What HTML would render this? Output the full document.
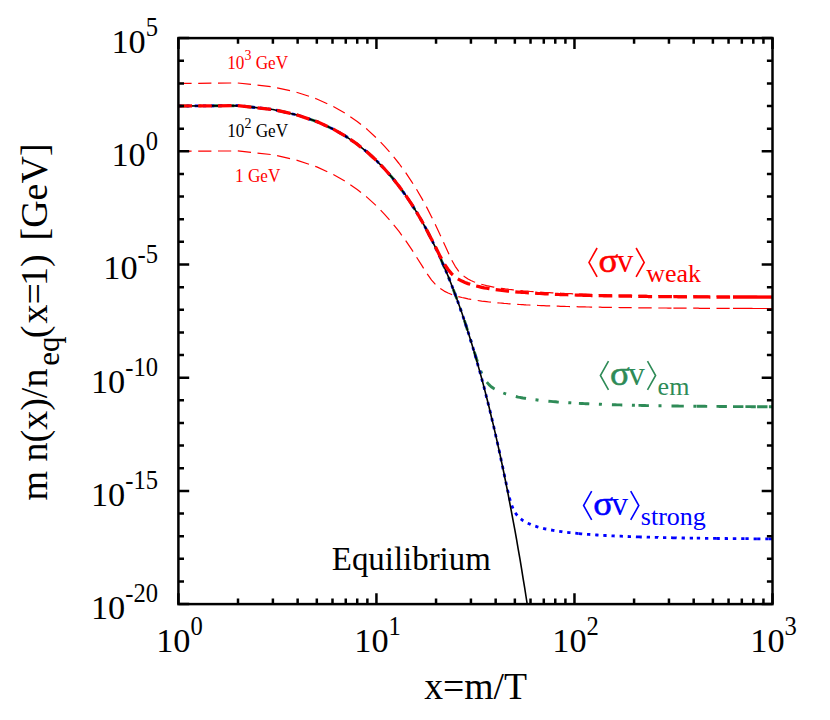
<!DOCTYPE html>
<html><head><meta charset="utf-8"><title>Freeze-out</title>
<style>html,body{margin:0;padding:0;background:#fff}svg{display:block}text{font-family:"Liberation Serif",serif}</style></head>
<body>
<svg width="830" height="720" viewBox="0 0 830 720">
<rect width="830" height="720" fill="#fff"/>
<defs><clipPath id="cp"><rect x="178.4" y="38.1" width="594.1" height="566.0"/></clipPath></defs>
<g clip-path="url(#cp)" fill="none" stroke-linecap="butt" stroke-linejoin="round">
<path d="M178.4 106.0L188.8 106.0M198.4 105.9L201.4 105.9M211.4 105.8L221.8 105.7M231.4 105.7L234.4 105.7M244.4 106.3L254.7 107.5M264.2 108.5L267.2 108.9M277.1 110.4L287.2 112.7M296.6 114.8L299.5 115.7M308.9 118.9L316.8 121.6L318.7 122.5M327.4 126.4L330.2 127.7M339.0 132.4L345.8 136.3L347.9 137.8M355.8 143.2L357.2 144.2L358.2 145.0M366.0 151.2L367.4 152.3L373.8 158.1M380.6 164.9L382.7 167.0M389.4 174.4L392.1 177.5L396.0 182.5M401.8 190.1L403.6 192.5M409.3 200.7L411.3 203.7L414.9 209.5M419.8 217.7L421.3 220.3M426.2 229.1L427.0 230.5L431.0 238.3M435.2 246.9L436.0 248.7L436.5 249.6M440.7 258.7L444.2 266.9L444.8 268.3M448.5 277.1L449.6 279.9M453.2 289.2L455.2 294.5L456.9 299.0M460.1 308.0L461.1 310.8M464.3 320.3L465.0 322.3L467.5 330.2M470.4 339.3L470.9 340.8L471.3 342.2M474.3 351.8L476.5 358.7L477.5 361.7M480.7 370.7L481.7 373.2L481.8 373.5M486.8 382.1L489.0 384.6L491.2 386.7L493.5 388.3L494.6 388.9M503.3 393.0L505.8 393.9L506.1 394.0M515.8 396.5L518.2 397.1L519.9 397.4L521.5 397.7L523.0 398.0L524.6 398.2L526.0 398.5M535.5 399.8L537.4 400.0L538.5 400.2M548.4 401.2L550.9 401.4L553.1 401.6L555.3 401.8L557.4 402.0L558.8 402.1M568.3 402.7L570.1 402.8L571.3 402.9M578.9 403.4L581.1 403.5L582.7 403.5L584.2 403.6L585.7 403.7L588.0 403.8L589.3 403.9M598.9 404.2L600.9 404.3L601.9 404.4M611.9 404.7L613.8 404.8L615.4 404.8L617.0 404.9L618.6 404.9L620.1 404.9L621.6 405.0L622.3 405.0M631.9 405.2L633.6 405.3L634.9 405.3M638.5 405.4L640.3 405.4L641.9 405.5L643.4 405.5L645.0 405.5L646.5 405.6L648.3 405.6L648.9 405.6M658.5 405.8L660.2 405.8L661.5 405.8M671.5 406.0L673.1 406.0L674.8 406.0L676.4 406.0L677.9 406.0L679.5 406.1L681.0 406.1L682.7 406.1L683.8 406.1M693.4 406.2L695.0 406.2L696.4 406.3M696.8 406.3L698.5 406.3L700.1 406.3L701.7 406.3L703.2 406.3L704.8 406.3L706.5 406.4L707.2 406.4M716.5 406.4L718.1 406.4L719.7 406.5L721.2 406.5L722.8 406.5L724.3 406.5L725.9 406.5L726.9 406.5M733.0 406.6L734.5 406.6L736.1 406.6L737.7 406.6L739.2 406.6L740.7 406.6L742.3 406.6L743.4 406.6M745.4 406.6L747.0 406.6L748.6 406.6L750.1 406.6L751.7 406.7L753.2 406.7L754.8 406.7L755.8 406.7M757.1 406.7L758.6 406.7L760.1 406.7L761.7 406.7L763.2 406.7L764.8 406.7L766.4 406.7L767.5 406.7M768.9 406.7L770.4 406.7L772.0 406.7L772.5 406.7" stroke="#2e8b57" stroke-width="2.90"/>
<path d="M178.4 106.0L181.7 106.0M186.6 106.0L189.9 105.9M194.7 105.9L198.0 105.9M202.9 105.9L206.2 105.8M211.0 105.8L214.3 105.8M219.2 105.8L222.5 105.7M227.3 105.7L230.6 105.7M235.5 105.6L238.0 105.6L238.8 105.7M243.6 106.2L246.9 106.6M251.7 107.1L255.0 107.5M259.8 108.0L263.1 108.4M267.9 108.9L271.2 109.3M276.0 110.2L279.2 110.9M283.9 112.0L287.2 112.7M291.9 113.8L295.1 114.5M299.8 115.8L302.9 116.9M307.5 118.4L310.6 119.5M315.2 121.1L316.8 121.6L318.3 122.3M322.7 124.3L325.7 125.7M330.1 127.7L332.5 128.8L333.1 129.1M337.3 131.5L340.2 133.1M344.4 135.6L345.8 136.3L347.2 137.3M351.2 140.1L353.9 141.9M357.9 144.7L360.5 146.8M364.3 149.8L366.9 151.9M370.5 155.1L372.9 157.3M376.5 160.6L378.8 163.0M382.2 166.5L384.5 168.8M387.7 172.5L389.9 175.0M393.0 178.7L395.1 181.2M398.1 185.0L400.1 187.7M402.9 191.6L404.9 194.3M407.6 198.3L409.5 201.0M412.1 205.1L413.9 207.9M416.5 212.0L418.1 214.8M420.6 219.0L422.1 221.6L422.2 221.9M424.6 226.1L426.2 229.0M428.4 233.3L429.9 236.3M432.1 240.6L433.6 243.6M435.7 247.9L437.1 250.9M439.1 255.3L440.2 257.8L440.5 258.3M442.4 262.8L443.8 265.8M445.6 270.3L446.9 273.3M448.8 277.8L450.0 280.9M451.8 285.4L452.9 288.5M454.7 293.0L455.2 294.5L455.8 296.1M457.5 300.7L458.6 303.8L458.6 303.8M460.2 308.4L461.3 311.5M462.9 316.1L463.9 319.2M465.5 323.8L466.5 327.0M468.0 331.6L469.0 334.7M470.4 339.4L470.9 341.0L471.4 342.5M472.8 347.2L473.7 350.3M475.1 355.0L476.0 358.2M477.3 362.8L478.2 366.0M479.6 370.7L480.4 373.9M481.7 378.6L482.5 381.7M483.8 386.4L484.2 387.9L484.6 389.6M485.8 394.3L486.6 397.3L486.7 397.5M487.8 402.2L488.6 405.4M489.8 410.2L490.6 413.4M491.7 418.1L492.5 421.3M493.6 426.0L494.3 429.2M495.4 434.0L496.1 437.2M497.2 441.9L497.8 444.5L497.9 445.2M499.0 449.9L499.7 453.1M500.7 457.9L501.4 461.1M502.4 465.8L503.1 469.1M504.1 473.8L504.8 477.1M505.8 481.8L506.5 485.0M507.5 489.8L508.3 493.0M509.4 497.7L510.3 500.9M511.8 505.5L513.0 508.6M515.3 512.8L516.6 514.7L517.3 515.5M520.8 518.9L523.0 520.6L523.4 520.8M527.7 523.2L529.1 523.8L530.5 524.4L530.7 524.5M535.3 526.1L537.4 526.8L538.4 527.1M543.1 528.3L545.0 528.8L546.3 529.0M551.1 530.0L553.1 530.3L554.4 530.5M559.2 531.3L561.5 531.6L562.4 531.8M567.2 532.4L569.1 532.6L570.5 532.7M575.3 533.2L577.0 533.4L578.6 533.6M578.9 533.6L581.1 533.8L582.2 533.9M587.0 534.3L588.7 534.4L590.3 534.5M595.2 534.9L597.0 535.0L598.5 535.1M603.3 535.4L605.2 535.5L606.6 535.5M611.5 535.8L613.3 535.9L614.7 536.0M619.6 536.2L621.1 536.2L622.9 536.3M627.7 536.5L629.7 536.6L631.0 536.6M635.9 536.8L637.5 536.9L639.1 536.9L640.7 537.0L641.8 537.0M646.7 537.1L648.3 537.2L650.0 537.2M654.8 537.4L656.3 537.4L658.0 537.4L658.1 537.5M663.0 537.6L664.5 537.6L666.3 537.6M671.1 537.7L672.9 537.8L674.5 537.8L676.1 537.8L676.7 537.9M681.6 537.9L683.2 538.0L684.9 538.0M689.7 538.1L691.3 538.1L692.8 538.1L693.0 538.1M696.8 538.2L698.5 538.2L700.1 538.2M705.0 538.3L706.5 538.3L708.1 538.3L708.3 538.3M713.1 538.4L714.8 538.4L716.3 538.4L716.4 538.4M716.5 538.4L718.1 538.5L719.7 538.5L719.8 538.5M724.7 538.5L726.2 538.5L727.8 538.6L728.0 538.6M732.8 538.6L734.4 538.6L736.0 538.6L736.3 538.6M741.2 538.7L742.7 538.7L744.2 538.7L744.5 538.7M745.4 538.7L747.0 538.7L748.6 538.7L748.7 538.7M753.6 538.8L755.1 538.8L756.7 538.8L756.9 538.8M757.1 538.8L758.6 538.8L760.1 538.8L760.4 538.8M765.3 538.9L766.8 538.9L768.4 538.9L768.6 538.9M768.9 538.9L770.4 538.9L772.0 538.9L772.2 538.9" stroke="#0000ff" stroke-width="2.80"/>
<path d="M178.4 106.0L238.0 105.6L272.9 109.5L297.6 115.1L316.8 121.6L332.5 128.8L345.8 136.3L357.2 144.2L367.4 152.3L376.4 160.6L384.6 169.0L392.1 177.5L399.0 186.2L405.4 194.9L411.3 203.7L416.9 212.6L422.1 221.6L427.0 230.5L431.6 239.6L436.0 248.7L440.2 257.8L444.2 266.9L448.1 276.1L451.7 285.3L455.2 294.5L458.6 303.8L461.9 313.1L465.0 322.4L468.0 331.7L470.9 341.0L473.7 350.3L476.5 359.7L479.1 369.1L481.7 378.5L484.2 387.9L486.6 397.3L489.0 406.7L491.2 416.2L493.5 425.6L495.7 435.1L497.8 444.5L499.9 454.0L501.9 463.5L503.9 473.0L505.8 482.5L507.7 492.0L509.5 501.5L511.3 511.0L513.1 520.6L514.9 530.1L516.6 539.7L518.2 549.2L519.9 558.7L521.5 568.3L523.0 577.9L524.6 587.4L526.1 597.0L527.6 606.6L529.1 616.2L530.5 625.7" stroke="#000" stroke-width="1.60"/>
<path d="M178.4 83.4L191.6 83.3M198.2 83.3L211.4 83.2M218.0 83.1L231.2 83.0M237.8 83.0L251.0 84.4M257.5 85.1L270.7 86.6M277.1 87.8L290.0 90.7M296.5 92.2L309.0 96.3M315.2 98.4L316.8 99.0L327.3 103.8M333.3 106.6L344.8 113.1M350.3 116.8L357.2 121.5L361.0 124.5M366.1 128.6L367.4 129.6L375.9 137.5M380.6 142.2L384.6 146.3L389.5 151.9M393.7 156.9L399.0 163.5L401.8 167.4M405.7 172.7L411.3 181.1L413.0 183.8M416.5 189.3L422.1 198.9L423.1 200.8M426.3 206.6L427.0 207.9L431.6 216.9L432.3 218.3M435.2 224.2L436.0 226.0L440.2 235.0L440.8 236.2M443.5 242.2L444.2 243.8L448.1 252.3L449.0 254.3M451.8 260.2L455.2 266.3L458.6 271.1L458.9 271.4M463.6 275.9L465.0 277.1L468.0 279.0L470.9 280.5L473.7 281.7L475.1 282.2M481.4 284.3L484.2 285.0L486.6 285.6L489.0 286.1L491.2 286.6L493.5 287.1L494.3 287.2M500.8 288.3L503.9 288.7L505.8 289.0L507.7 289.2L509.5 289.5L511.3 289.7L513.1 289.9L513.9 290.0M520.4 290.6L523.0 290.9L524.6 291.0L526.1 291.1L527.6 291.2L530.5 291.5L533.4 291.7L533.6 291.7M540.2 292.2L542.6 292.3L545.0 292.5L547.4 292.6L549.7 292.7L552.0 292.8L553.4 292.9M560.0 293.2L561.5 293.3L563.5 293.4L565.4 293.5L567.3 293.5L569.1 293.6L571.0 293.7L572.7 293.8L573.2 293.8M578.9 294.0L581.1 294.1L582.7 294.1L584.2 294.2L585.7 294.2L588.0 294.3L590.1 294.3L592.1 294.4M598.7 294.6L600.3 294.6L602.2 294.6L604.0 294.7L605.8 294.7L607.6 294.8L609.3 294.8L611.0 294.9L611.9 294.9M618.5 295.0L620.1 295.0L621.6 295.1L623.6 295.1L625.5 295.1L627.4 295.2L629.2 295.2L631.0 295.2L631.7 295.2M638.3 295.3L639.9 295.4L641.5 295.4L643.1 295.4L644.6 295.4L646.1 295.4L648.0 295.5L649.8 295.5L651.5 295.5L651.7 295.5M658.3 295.6L659.9 295.6L661.5 295.6L663.0 295.7L664.5 295.7L666.3 295.7L668.1 295.7L669.8 295.7L671.5 295.7L671.5 295.7M673.4 295.8L675.0 295.8L676.6 295.8L678.2 295.8L679.7 295.8L681.2 295.8L682.9 295.8L684.6 295.9L686.3 295.9L686.6 295.9M693.2 295.9L694.8 295.9L696.4 295.9L698.1 296.0L699.7 296.0L701.3 296.0L702.9 296.0L704.4 296.0L705.9 296.0L707.6 296.0L709.2 296.0L710.0 296.0M716.5 296.1L718.1 296.1L719.7 296.1L721.2 296.1L722.8 296.1L724.3 296.1L725.9 296.1L727.6 296.1L729.1 296.1L729.7 296.1M733.0 296.2L734.5 296.2L736.1 296.2L737.7 296.2L739.2 296.2L740.7 296.2L742.3 296.2L743.9 296.2L745.4 296.2L747.0 296.2L748.6 296.2L750.1 296.2L751.7 296.2L753.2 296.2L754.8 296.2L756.4 296.2L757.9 296.3L759.4 296.3L761.0 296.3L762.6 296.3L764.1 296.3L765.6 296.3L767.2 296.3L768.7 296.3L770.2 296.3L771.8 296.3L772.5 296.3" stroke="#ff0000" stroke-width="1.20"/>
<path d="M178.4 151.3L191.6 151.2M198.2 151.2L211.4 151.1M218.0 151.0L231.2 151.0M237.8 150.9L251.0 152.3M257.5 153.1L270.7 154.5M277.1 155.7L290.0 158.6M296.5 160.1L309.0 164.2M315.2 166.4L316.8 166.9L327.3 171.7M333.3 174.5L344.8 181.0M350.3 184.7L357.2 189.5L361.0 192.4M366.1 196.5L367.4 197.6L375.9 205.4M380.6 210.1L384.6 214.3L389.5 219.8M393.7 224.8L399.0 231.4L401.8 235.3M405.7 240.6L411.3 248.9L413.1 251.6M416.6 257.2L422.1 265.9L423.6 268.4M427.2 273.9L431.6 280.1L435.4 284.3M440.3 288.6L444.2 291.1L448.1 293.0L451.7 294.5L452.1 294.6M458.3 296.6L461.9 297.5L465.0 298.2L468.0 298.9L470.9 299.4L471.2 299.5M477.7 300.5L481.7 301.1L484.2 301.4L486.6 301.7L489.0 302.0L490.9 302.2M497.4 302.8L499.9 303.0L501.9 303.2L503.9 303.4L505.8 303.5L507.7 303.7L509.5 303.8L510.6 303.9M517.2 304.3L519.9 304.5L521.5 304.6L523.0 304.7L524.6 304.8L526.1 304.9L529.1 305.0L530.4 305.1M537.0 305.4L538.7 305.5L541.3 305.6L543.8 305.7L546.2 305.8L548.6 305.9L550.2 305.9M556.7 306.2L558.4 306.2L560.5 306.3L562.5 306.4L564.4 306.4L566.4 306.5L568.2 306.5L570.0 306.6M576.6 306.7L578.7 306.8L580.3 306.8L581.9 306.9L583.4 306.9L585.0 306.9L586.5 307.0L588.7 307.0L590.9 307.1L592.1 307.1M598.7 307.2L600.3 307.2L602.2 307.3L604.0 307.3L605.8 307.3L607.6 307.4L609.3 307.4L611.0 307.4L611.9 307.4M618.5 307.5L620.1 307.6L621.6 307.6L623.6 307.6L625.5 307.6L627.4 307.7L629.2 307.7L631.0 307.7L631.7 307.7M638.3 307.8L639.9 307.8L641.5 307.8L643.1 307.8L644.6 307.9L646.1 307.9L648.0 307.9L649.8 307.9L651.5 307.9L651.7 307.9M658.3 308.0L659.9 308.0L661.5 308.0L663.0 308.0L664.5 308.0L666.3 308.0L668.1 308.1L669.8 308.1L671.5 308.1L671.5 308.1M673.4 308.1L675.0 308.1L676.6 308.1L678.2 308.1L679.7 308.1L681.2 308.1L682.9 308.2L684.6 308.2L686.3 308.2L686.6 308.2M693.2 308.2L694.8 308.2L696.4 308.2L698.1 308.2L699.7 308.3L701.3 308.3L702.9 308.3L704.4 308.3L705.9 308.3L707.6 308.3L709.2 308.3L710.0 308.3M716.5 308.3L718.1 308.3L719.7 308.3L721.2 308.3L722.8 308.4L724.3 308.4L725.9 308.4L727.6 308.4L729.1 308.4L729.7 308.4M733.0 308.4L734.5 308.4L736.1 308.4L737.7 308.4L739.2 308.4L740.7 308.4L742.3 308.4L743.9 308.4L745.4 308.4L747.0 308.4L748.6 308.4L750.1 308.4L751.7 308.4L753.2 308.5L754.8 308.5L756.4 308.5L757.9 308.5L759.4 308.5L761.0 308.5L762.6 308.5L764.1 308.5L765.6 308.5L767.2 308.5L768.7 308.5L770.2 308.5L771.8 308.5L772.5 308.5" stroke="#ff0000" stroke-width="1.20"/>
<path d="M178.4 106.0L192.0 105.9M198.2 105.9L211.8 105.8M218.0 105.8L231.6 105.7M237.8 105.6L251.3 107.1M257.5 107.8L271.0 109.3M277.1 110.4L290.4 113.4M296.5 114.8L309.3 119.1M315.2 121.1L316.8 121.6L327.6 126.5M333.3 129.2L345.1 135.9M350.3 139.4L357.2 144.2L361.2 147.4M366.1 151.3L367.4 152.3L376.2 160.3M380.6 164.8L384.6 169.0L389.7 174.8M393.7 179.6L399.0 186.2L402.0 190.3M405.7 195.4L411.3 203.7L413.2 206.7M416.5 212.0L422.1 221.5L423.3 223.7M426.3 229.2L431.6 239.4L432.6 241.2M435.4 246.8L440.2 256.4L441.6 258.8M444.6 264.3L448.1 269.5L451.7 273.9L452.9 275.0M457.8 278.8L461.9 281.1L465.0 282.5L468.0 283.6L470.2 284.3M476.2 286.0L479.1 286.7L481.7 287.3L484.2 287.8L486.6 288.2L489.0 288.6L489.5 288.7M495.7 289.6L497.8 289.9L499.9 290.2L501.9 290.4L503.9 290.7L505.8 290.9L507.7 291.1L509.1 291.2M515.3 291.8L518.2 292.1L519.9 292.2L521.5 292.3L523.0 292.4L524.6 292.5L526.1 292.7L528.9 292.8M535.1 293.2L537.4 293.4L540.0 293.5L542.6 293.7L545.0 293.8L547.4 293.9L548.7 294.0M554.9 294.3L557.4 294.4L559.5 294.5L561.5 294.5L563.5 294.6L565.4 294.7L567.3 294.7L568.4 294.8M574.7 295.0L577.0 295.1L578.7 295.1L580.3 295.2L581.9 295.2L583.4 295.3L585.0 295.3L586.5 295.3L588.7 295.4L590.9 295.5L592.5 295.5M598.7 295.6L600.3 295.7L602.2 295.7L604.0 295.8L605.8 295.8L607.6 295.8L609.3 295.9L611.0 295.9L612.3 295.9M618.5 296.0L620.1 296.1L621.6 296.1L623.6 296.1L625.5 296.2L627.4 296.2L629.2 296.2L631.0 296.2L632.1 296.3M638.3 296.3L639.9 296.4L641.5 296.4L643.1 296.4L644.6 296.4L646.1 296.4L648.0 296.5L649.8 296.5L651.5 296.5L652.1 296.5M658.3 296.6L659.9 296.6L661.5 296.6L663.0 296.6L664.5 296.6L666.3 296.6L668.1 296.7L669.8 296.7L671.5 296.7L671.9 296.7M673.4 296.7L675.0 296.7L676.6 296.7L678.2 296.8L679.7 296.8L681.2 296.8L682.9 296.8L684.6 296.8L686.3 296.8L687.0 296.8M693.2 296.9L694.8 296.9L696.4 296.9L698.1 296.9L699.7 296.9L701.3 296.9L702.9 296.9L704.4 296.9L705.9 296.9L707.6 296.9L709.2 297.0L710.4 297.0M716.5 297.0L718.1 297.0L719.7 297.0L721.2 297.0L722.8 297.0L724.3 297.0L725.9 297.0L727.6 297.0L729.1 297.1L730.1 297.1M733.0 297.1L734.5 297.1L736.1 297.1L737.7 297.1L739.2 297.1L740.7 297.1L742.3 297.1L743.9 297.1L745.4 297.1L747.0 297.1L748.6 297.1L750.1 297.1L751.7 297.1L753.2 297.1L754.8 297.1L756.4 297.2L757.9 297.2L759.4 297.2L761.0 297.2L762.6 297.2L764.1 297.2L765.6 297.2L767.2 297.2L768.7 297.2L770.2 297.2L771.8 297.2L772.5 297.2" stroke="#ff0000" stroke-width="3.25"/>
</g>
<g stroke="#000" fill="none" stroke-linecap="butt">
<path d="M178.4 38.10h10.8M772.5 38.10h-10.8M178.4 60.74h5.6M772.5 60.74h-5.6M178.4 83.38h5.6M772.5 83.38h-5.6M178.4 106.02h5.6M772.5 106.02h-5.6M178.4 128.66h5.6M772.5 128.66h-5.6M178.4 151.30h10.8M772.5 151.30h-10.8M178.4 173.94h5.6M772.5 173.94h-5.6M178.4 196.58h5.6M772.5 196.58h-5.6M178.4 219.22h5.6M772.5 219.22h-5.6M178.4 241.86h5.6M772.5 241.86h-5.6M178.4 264.50h10.8M772.5 264.50h-10.8M178.4 287.14h5.6M772.5 287.14h-5.6M178.4 309.78h5.6M772.5 309.78h-5.6M178.4 332.42h5.6M772.5 332.42h-5.6M178.4 355.06h5.6M772.5 355.06h-5.6M178.4 377.70h10.8M772.5 377.70h-10.8M178.4 400.34h5.6M772.5 400.34h-5.6M178.4 422.98h5.6M772.5 422.98h-5.6M178.4 445.62h5.6M772.5 445.62h-5.6M178.4 468.26h5.6M772.5 468.26h-5.6M178.4 490.90h10.8M772.5 490.90h-10.8M178.4 513.54h5.6M772.5 513.54h-5.6M178.4 536.18h5.6M772.5 536.18h-5.6M178.4 558.82h5.6M772.5 558.82h-5.6M178.4 581.46h5.6M772.5 581.46h-5.6M178.4 604.10h10.8M772.5 604.10h-10.8M178.40 604.1v-10.8M178.40 38.1v10.8M238.01 604.1v-5.6M238.01 38.1v5.6M272.89 604.1v-5.6M272.89 38.1v5.6M297.63 604.1v-5.6M297.63 38.1v5.6M316.82 604.1v-5.6M316.82 38.1v5.6M332.50 604.1v-5.6M332.50 38.1v5.6M345.76 604.1v-5.6M345.76 38.1v5.6M357.24 604.1v-5.6M357.24 38.1v5.6M367.37 604.1v-5.6M367.37 38.1v5.6M376.43 604.1v-10.8M376.43 38.1v10.8M436.05 604.1v-5.6M436.05 38.1v5.6M470.92 604.1v-5.6M470.92 38.1v5.6M495.66 604.1v-5.6M495.66 38.1v5.6M514.85 604.1v-5.6M514.85 38.1v5.6M530.53 604.1v-5.6M530.53 38.1v5.6M543.79 604.1v-5.6M543.79 38.1v5.6M555.28 604.1v-5.6M555.28 38.1v5.6M565.41 604.1v-5.6M565.41 38.1v5.6M574.47 604.1v-10.8M574.47 38.1v10.8M634.08 604.1v-5.6M634.08 38.1v5.6M668.95 604.1v-5.6M668.95 38.1v5.6M693.69 604.1v-5.6M693.69 38.1v5.6M712.89 604.1v-5.6M712.89 38.1v5.6M728.57 604.1v-5.6M728.57 38.1v5.6M741.82 604.1v-5.6M741.82 38.1v5.6M753.31 604.1v-5.6M753.31 38.1v5.6M763.44 604.1v-5.6M763.44 38.1v5.6M772.50 604.1v-10.8M772.50 38.1v10.8" stroke-width="2.50"/>
<rect x="178.4" y="38.1" width="594.1" height="566.0" stroke-width="2.50" stroke-linejoin="miter"/>
</g>
<g fill="#000"><text transform="translate(111.42 52.90) scale(1.000 1)" font-size="34.30">10</text><text transform="translate(145.72 36.40) scale(0.900 1)" font-size="27.30">5</text></g>
<g fill="#000"><text transform="translate(111.42 166.10) scale(1.000 1)" font-size="34.30">10</text><text transform="translate(145.72 149.60) scale(0.900 1)" font-size="27.30">0</text></g>
<g fill="#000"><text transform="translate(103.23 279.30) scale(1.000 1)" font-size="34.30">10</text><text transform="translate(137.53 262.80) scale(0.900 1)" font-size="27.30">-5</text></g>
<g fill="#000"><text transform="translate(90.95 392.50) scale(1.000 1)" font-size="34.30">10</text><text transform="translate(125.25 376.00) scale(0.900 1)" font-size="27.30">-10</text></g>
<g fill="#000"><text transform="translate(90.95 505.70) scale(1.000 1)" font-size="34.30">10</text><text transform="translate(125.25 489.20) scale(0.900 1)" font-size="27.30">-15</text></g>
<g fill="#000"><text transform="translate(90.95 618.90) scale(1.000 1)" font-size="34.30">10</text><text transform="translate(125.25 602.40) scale(0.900 1)" font-size="27.30">-20</text></g>
<g fill="#000"><text transform="translate(156.21 651.70) scale(1.000 1)" font-size="34.30">10</text><text transform="translate(190.51 635.20) scale(0.900 1)" font-size="27.30">0</text></g>
<g fill="#000"><text transform="translate(354.24 651.70) scale(1.000 1)" font-size="34.30">10</text><text transform="translate(388.54 635.20) scale(0.900 1)" font-size="27.30">1</text></g>
<g fill="#000"><text transform="translate(552.27 651.70) scale(1.000 1)" font-size="34.30">10</text><text transform="translate(586.57 635.20) scale(0.900 1)" font-size="27.30">2</text></g>
<g fill="#000"><text transform="translate(750.31 651.70) scale(1.000 1)" font-size="34.30">10</text><text transform="translate(784.61 635.20) scale(0.900 1)" font-size="27.30">3</text></g>
<text x="475.6" y="699.4" text-anchor="middle" font-size="37.7">x=m/T</text>
<g transform="translate(47.0 0) rotate(-90)" font-size="37.7"><text x="-500.5" y="0.0" font-size="38.0">m n(x)/n</text><text x="-365.7" y="11.7" font-size="31.0">eq</text><text x="-338.2" y="0.0" font-size="38.0">(</text><text x="-323.6" y="0.0" font-size="38.0">x=</text><text x="-286.0" y="0.0" font-size="38.0">1</text><text x="-267.0" y="0.0" font-size="38.0">)</text><text x="-240.5" y="0.0" font-size="38.0">[GeV]</text></g>
<g fill="#ff0000"><text transform="translate(227.22 68.80) scale(0.930 1)" font-size="18.50">10</text><text transform="translate(244.42 59.80) scale(0.930 1)" font-size="15.00">3</text><text transform="translate(251.40 68.80) scale(0.930 1)" font-size="18.50">&#160;GeV</text></g>
<g fill="#000"><text transform="translate(227.22 136.80) scale(0.930 1)" font-size="18.50">10</text><text transform="translate(244.42 127.80) scale(0.930 1)" font-size="15.00">2</text><text transform="translate(251.40 136.80) scale(0.930 1)" font-size="18.50">&#160;GeV</text></g>
<g fill="#ff0000"><text transform="translate(235.00 181.90) scale(0.930 1)" font-size="18.50">1&#160;GeV</text></g>
<text x="331.8" y="570.1" font-size="32.9" fill="#000">Equilibrium</text>
<g fill="#ff0000" stroke="none"><path d="M597.1 248.0L589.0 262.4L597.1 276.8" fill="none" stroke="#ff0000" stroke-width="1.60" stroke-linejoin="miter" stroke-miterlimit="10"/><path d="M636.1 248.0L644.2 262.4L636.1 276.8" fill="none" stroke="#ff0000" stroke-width="1.60" stroke-linejoin="miter" stroke-miterlimit="10"/><text x="598.6" y="272.0" font-size="34.0" stroke="#ff0000" stroke-width="0.50" textLength="19.8" lengthAdjust="spacingAndGlyphs">σ</text><text x="616.8" y="272.0" font-size="33.0">v</text><text x="646.2" y="282.3" font-size="26.0">weak</text></g>
<g fill="#2e8b57" stroke="none"><path d="M608.5 361.1L600.4 375.5L608.5 389.9" fill="none" stroke="#2e8b57" stroke-width="1.60" stroke-linejoin="miter" stroke-miterlimit="10"/><path d="M647.5 361.1L655.6 375.5L647.5 389.9" fill="none" stroke="#2e8b57" stroke-width="1.60" stroke-linejoin="miter" stroke-miterlimit="10"/><text x="610.0" y="385.1" font-size="34.0" stroke="#2e8b57" stroke-width="0.50" textLength="19.8" lengthAdjust="spacingAndGlyphs">σ</text><text x="628.2" y="385.1" font-size="33.0">v</text><text x="657.6" y="395.4" font-size="26.0">em</text></g>
<g fill="#0000ff" stroke="none"><path d="M591.7 491.1L583.6 505.5L591.7 519.9" fill="none" stroke="#0000ff" stroke-width="1.60" stroke-linejoin="miter" stroke-miterlimit="10"/><path d="M630.7 491.1L638.8 505.5L630.7 519.9" fill="none" stroke="#0000ff" stroke-width="1.60" stroke-linejoin="miter" stroke-miterlimit="10"/><text x="593.2" y="515.1" font-size="34.0" stroke="#0000ff" stroke-width="0.50" textLength="19.8" lengthAdjust="spacingAndGlyphs">σ</text><text x="611.4" y="515.1" font-size="33.0">v</text><text x="640.8" y="525.4" font-size="26.0">strong</text></g>
</svg>
</body></html>
